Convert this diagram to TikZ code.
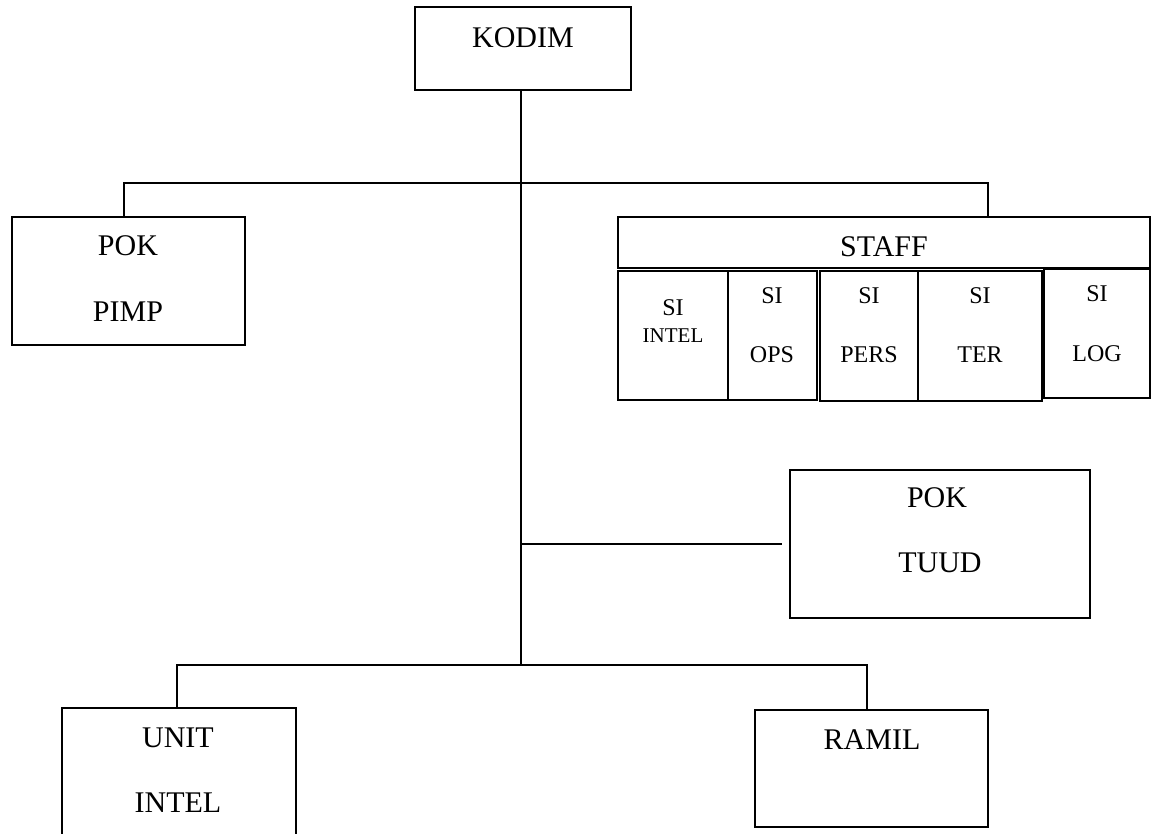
\documentclass[tikz,border=0pt]{standalone}
\usepackage{fontspec}
\setmainfont{Liberation Serif}
\begin{document}
\begin{tikzpicture}[x=1pt,y=-1pt,
  box/.style={draw,line width=2.7pt,rectangle,inner sep=0pt},
  big/.style={anchor=base,inner sep=0pt,font=\fontsize{30}{35}\selectfont},
  small/.style={anchor=base,inner sep=0pt,font=\fontsize{24}{28}\selectfont},
  tiny/.style={anchor=base,inner sep=0pt,font=\fontsize{21}{25}\selectfont},
  link/.style={line width=1.2pt}]
\useasboundingbox (0,0) rectangle (1160,834);
\clip (0,0) rectangle (1160,834);
\fill[white] (0,0) rectangle (1160,834);
% boxes
\node[box,minimum width=216pt,minimum height=83pt] (kodim) at (523,48.5) {};
\node[box,minimum width=233pt,minimum height=128pt] (pimp) at (128.5,281) {};
\node[box,minimum width=532pt,minimum height=51pt] (staff) at (884,242.5) {};
\node[box,minimum width=110pt,minimum height=129pt] (intel) at (673,335.5) {};
\node[box,minimum width=89pt,minimum height=129pt] (ops) at (772.5,335.5) {};
\node[box,minimum width=98pt,minimum height=130pt] (pers) at (869,336) {};
\node[box,minimum width=124pt,minimum height=130pt] (ter) at (980,336) {};
\node[box,minimum width=106pt,minimum height=129pt] (log) at (1097,333.5) {};
\node[box,minimum width=300pt,minimum height=148pt] (tuud) at (940,544) {};
\node[box,minimum width=234pt,minimum height=152pt] (unit) at (179,784) {};
\node[box,minimum width=233pt,minimum height=117pt] (ramil) at (871.5,768.5) {};
% texts
\node[big] (tkodim) at (523,48) {KODIM};
\node[big] (tpok1) at (128,256) {POK};
\node[big] (tpimp) at (128,322) {PIMP};
\node[big] (tstaff) at (884,257) {STAFF};
\node[small] (tsi1) at (673,316) {SI};
\node[tiny] (tintel) at (673,343) {INTEL};
\node[small] (tsi2) at (772,304) {SI};
\node[small] (tops) at (772,363) {OPS};
\node[small] (tsi3) at (869,304) {SI};
\node[small] (tpers) at (869,363) {PERS};
\node[small] (tsi4) at (980,304) {SI};
\node[small] (tter) at (980,363) {TER};
\node[small] (tsi5) at (1097,302) {SI};
\node[small] (tlog) at (1097,362) {LOG};
\node[big] (tpok2) at (937,507) {POK};
\node[big] (ttuud) at (940,572) {TUUD};
\node[big] (tunit) at (178,747) {UNIT};
\node[big] (tintel2) at (178,812) {INTEL};
\node[big] (tramil) at (872,749) {RAMIL};
% connectors
\coordinate (hub) at (521,665);
\coordinate (tl) at (124,183);
\coordinate (tr) at (988,183);
\coordinate (tj) at (521,544);
\coordinate (te) at (782,544);
\coordinate (bl) at (177,665);
\coordinate (br) at (867,665);
\draw[link] (kodim.south -| hub) -- (hub);
\draw[link] (tl |- pimp.north) -- (tl) -- (tr) -- (tr |- staff.north);
\draw[link] (tj) -- (te);
\draw[link] (bl |- unit.north) -- (bl) -- (br) -- (br |- ramil.north);
\end{tikzpicture}
\end{document}
